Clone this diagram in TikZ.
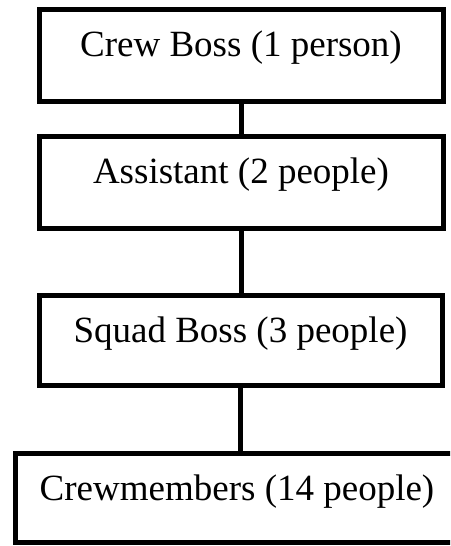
\documentclass[tikz,border=0pt]{standalone}
\usepackage{fontspec}
\setmainfont{Liberation Serif}

\begin{document}
\begin{tikzpicture}[x=1pt, y=-1pt,
		rank/.style={draw, line width=5pt, outer sep=0pt, minimum width=404pt, inner xsep=0pt, inner ysep=10pt, text height=37pt, text depth=35pt, anchor=north, font=\fontsize{37}{40}\selectfont}]
			%%%%% START %%%%%
			
			\clip (0, 0) rectangle (450, 546);
			
			\node[rank] (boss) at (241, 9.5) {Crew Boss (1 person)};
			\node[rank] (asst) at (241, 136.5) {Assistant (2 people)};
			\node[rank, text depth=33pt, minimum width=403pt] (squad) at (240.5, 295.5) {Squad Boss (3 people)};
			\node[rank, text depth=32pt, minimum width=443pt] (crew) at (237, 453.5) {Crewmembers (14 people)};
			
			\draw[line width=5pt] (boss.south) -- (asst.north);
			\draw[line width=5pt] (asst.south) -- (asst.south |- squad.north);
			\draw[line width=5pt] (squad.south) -- (squad.south |- crew.north);
			
			%%%%% END %%%%%
		\end{tikzpicture}
\end{document}
